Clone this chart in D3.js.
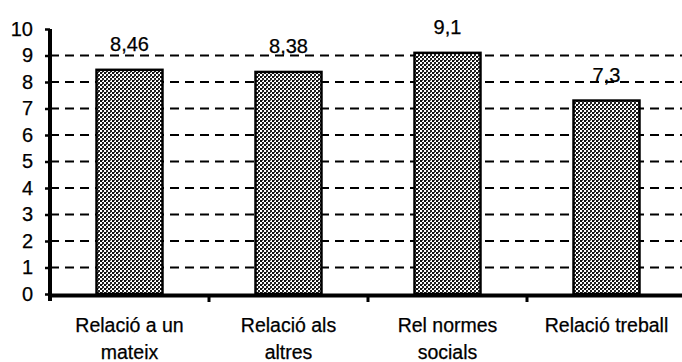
<!DOCTYPE html>
<html>
<head>
<meta charset="utf-8">
<script src="https://cdn.jsdelivr.net/npm/d3@7"></script>
<style>
  html, body { margin: 0; padding: 0; background: #fff; }
  svg { display: block; }
  text { font-family: "Liberation Sans", Arial, sans-serif; fill: #000; stroke: #000; stroke-width: 0.25; }
</style>
</head>
<body>
<svg id="chart" width="682" height="362"></svg>
<script>
// Chart data
const categories = [["Relació a un", "mateix"], ["Relació als", "altres"], ["Rel normes", "socials"], ["Relació treball"]];
const values = [8.46, 8.38, 9.1, 7.3];
const yTicks = [0, 1, 2, 3, 4, 5, 6, 7, 8, 9, 10];
const gridValues = [1, 2, 3, 4, 5, 6, 7, 8, 9];

const svg = d3.select("#chart");
const W = 682, H = 362;
const plotLeft = 50, plotRight = 686, plotTop = 29, plotBottom = 294;

const x = d3.scaleBand()
  .domain(d3.range(categories.length))
  .range([plotLeft, plotRight])
  .paddingInner(0.585)
  .paddingOuter(0.2925);

const y = d3.scaleLinear().domain([0, 10]).range([plotBottom, plotTop]);

const fmt = v => String(v).replace(".", ",");

// Checkered grey fill for the bars
const defs = svg.append("defs");
const pat = defs.append("pattern")
  .attr("id", "dither")
  .attr("patternUnits", "userSpaceOnUse")
  .attr("width", 4).attr("height", 4);
pat.append("rect").attr("width", 4).attr("height", 4).attr("fill", "#fff");
pat.append("rect").attr("x", 0).attr("y", 0).attr("width", 2).attr("height", 2).attr("fill", "#111");
pat.append("rect").attr("x", 2).attr("y", 2).attr("width", 2).attr("height", 2).attr("fill", "#222");
pat.append("rect").attr("x", 2).attr("y", 0).attr("width", 1).attr("height", 1).attr("fill", "#555");

// Dashed gridlines
svg.append("g")
  .selectAll("line")
  .data(gridValues)
  .join("line")
  .attr("x1", plotLeft).attr("x2", W)
  .attr("y1", d => y(d)).attr("y2", d => y(d))
  .attr("stroke", "#000")
  .attr("stroke-width", 1.8)
  .attr("stroke-dasharray", "9,6");

// Bars
svg.append("g")
  .selectAll("rect")
  .data(values)
  .join("rect")
  .attr("x", (d, i) => x(i))
  .attr("y", d => y(d))
  .attr("width", x.bandwidth())
  .attr("height", d => y(0) - y(d))
  .attr("fill", "url(#dither)")
  .attr("stroke", "#000")
  .attr("stroke-width", 2.5);

// Value labels
svg.append("g")
  .selectAll("text")
  .data(values)
  .join("text")
  .attr("x", (d, i) => x(i) + x.bandwidth() / 2)
  .attr("y", d => y(d) - 19)
  .attr("text-anchor", "middle")
  .attr("font-size", 20)
  .text(d => fmt(d));

// Y axis
const yAxis = d3.axisLeft(y).tickValues(yTicks).tickSize(5).tickPadding(12).tickFormat(d3.format("d"));
const gy = svg.append("g").attr("transform", `translate(${plotLeft},0)`).call(yAxis);
gy.select(".domain").remove();
gy.selectAll(".tick line").attr("stroke", "#000").attr("stroke-width", 2.5);
gy.selectAll(".tick text").attr("font-size", 20).attr("font-family", "Liberation Sans, Arial, sans-serif").attr("fill", "#000");
svg.append("line")
  .attr("x1", plotLeft).attr("x2", plotLeft)
  .attr("y1", plotTop).attr("y2", plotBottom + 7)
  .attr("stroke", "#000").attr("stroke-width", 4);

// X axis baseline with ticks between categories
svg.append("line")
  .attr("x1", plotLeft - 2).attr("x2", W)
  .attr("y1", y(0) + 1.5).attr("y2", y(0) + 1.5)
  .attr("stroke", "#000").attr("stroke-width", 4);
svg.append("g")
  .selectAll("line")
  .data(d3.range(1, categories.length))
  .join("line")
  .attr("x1", i => plotLeft + x.step() * i)
  .attr("x2", i => plotLeft + x.step() * i)
  .attr("y1", y(0)).attr("y2", y(0) + 8)
  .attr("stroke", "#000").attr("stroke-width", 3);

// Category labels
const lab = svg.append("g")
  .selectAll("text")
  .data(categories)
  .join("text")
  .attr("text-anchor", "middle")
  .attr("font-size", 19.5)
  .attr("x", (d, i) => x(i) + x.bandwidth() / 2);
lab.selectAll("tspan")
  .data(d => d)
  .join("tspan")
  .attr("x", function() { return this.parentNode.getAttribute("x"); })
  .attr("y", (d, j) => 332 + j * 27)
  .text(d => d);
</script>
</body>
</html>
